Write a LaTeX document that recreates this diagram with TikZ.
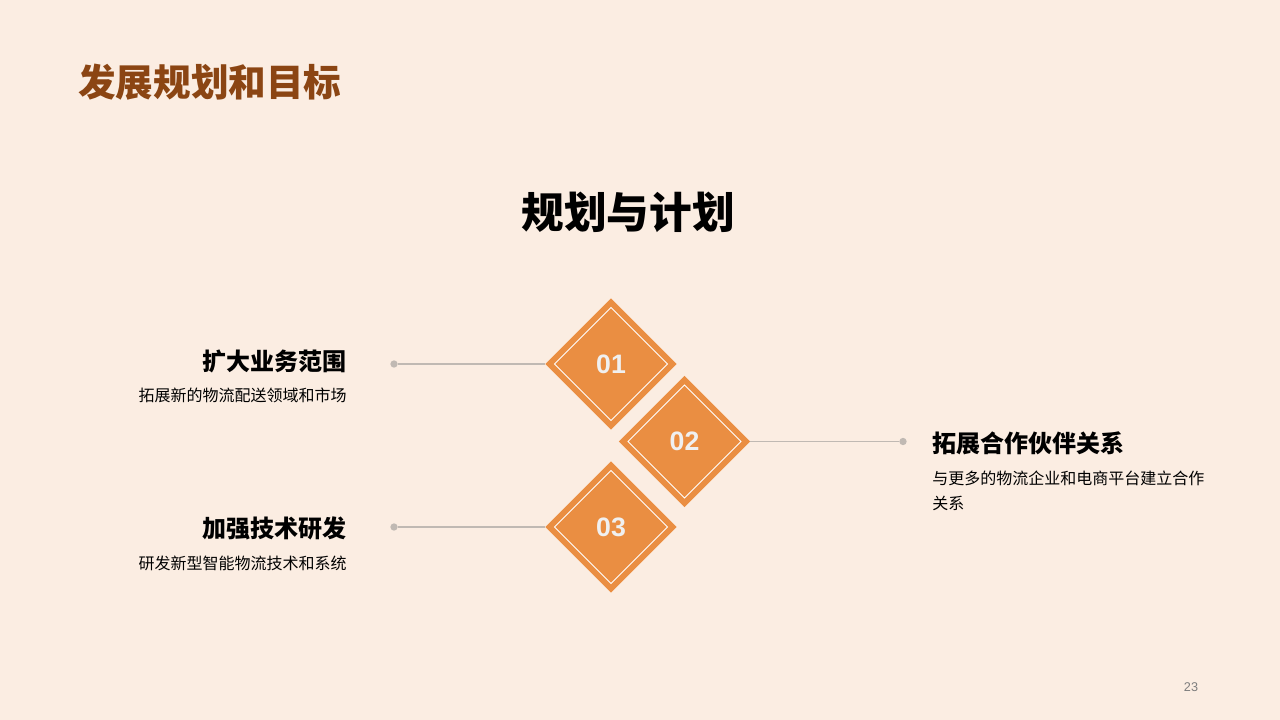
\documentclass[tikz,border=0pt]{standalone}
\usepackage{fontspec}
\setmainfont{Noto Sans CJK SC}
\newfontfamily\numfont{Liberation Sans}
\usetikzlibrary{shapes.geometric,positioning}

\definecolor{pagebg}{RGB}{251,237,226}
\definecolor{tileorange}{RGB}{234,142,66}
\definecolor{headbrown}{RGB}{139,69,19}
\definecolor{linegray}{RGB}{192,185,179}
\definecolor{numgray}{RGB}{125,125,125}

\tikzset{
  tile/.style={diamond, fill=tileorange, inner sep=0pt, minimum width=98.5pt, minimum height=98.5pt},
  tileline/.style={diamond, draw=white, line width=0.7pt, inner sep=0pt, minimum width=85pt, minimum height=85pt},
  tilenum/.style={text=white!94!black, font=\numfont\bfseries\fontsize{20pt}{20pt}\selectfont},
  enddot/.style={circle, fill=linegray, inner sep=0pt, minimum size=5.5pt},
  link/.style={draw=linegray, line width=1.3pt},
  itemhead/.style={font=\bfseries\fontsize{18pt}{21pt}\selectfont, inner sep=0pt},
  itemtext/.style={font=\fontsize{12pt}{18.75pt}\selectfont, inner sep=0pt}
}

\begin{document}
\begin{tikzpicture}[x=0.75pt, y=-0.75pt]
  % page
  \fill[pagebg] (0,0) rectangle (1280,720);
  \useasboundingbox (0,0) rectangle (1280,720);

  % titles
  \node[anchor=west, inner sep=0pt, text=headbrown, font=\bfseries\fontsize{28.2pt}{30pt}\selectfont] (head) at (78,82) {发展规划和目标};
  \node[inner sep=0pt, font=\bfseries\fontsize{32pt}{36pt}\selectfont] (title) at (628,212) {规划与计划};

  % tiles
  \node[tile] (t1) at (611,364) {};
  \node[tileline] (l1) at (t1) {};
  \node[tilenum] (n1) at (t1) {01};
  \node[tile] (t2) at (684.5,441.5) {};
  \node[tileline] (l2) at (t2) {};
  \node[tilenum] (n2) at (t2) {02};
  \node[tile] (t3) at (611,527) {};
  \node[tileline] (l3) at (t3) {};
  \node[tilenum] (n3) at (t3) {03};

  % connectors
  \node[enddot] (d1) at (394,364) {};
  \node[enddot] (d2) at (903,441.5) {};
  \node[enddot] (d3) at (394,527) {};
  \draw[link] (d1) -- (t1.west);
  \draw[link] (t2.east) -- (d2);
  \draw[link] (d3) -- (t3.west);

  % items
  \node[itemhead, anchor=east] (h1) at (347,361) {扩大业务范围};
  \node[itemtext, anchor=east] (x1) at (347,395) {拓展新的物流配送领域和市场};
  \node[itemhead, anchor=west] (h2) at (932,443) {拓展合作伙伴关系};
  \node[itemtext, anchor=north west, align=left] (x2) at (932,471) {与更多的物流企业和电商平台建立合作\\关系};
  \node[itemhead, anchor=east] (h3) at (347,528) {加强技术研发};
  \node[itemtext, anchor=east] (x3) at (347,563) {研发新型智能物流技术和系统};

  % page number
  \node[text=numgray, font=\numfont\fontsize{9.5pt}{10pt}\selectfont] (pg) at (1191,687) {23};
\end{tikzpicture}
\end{document}
